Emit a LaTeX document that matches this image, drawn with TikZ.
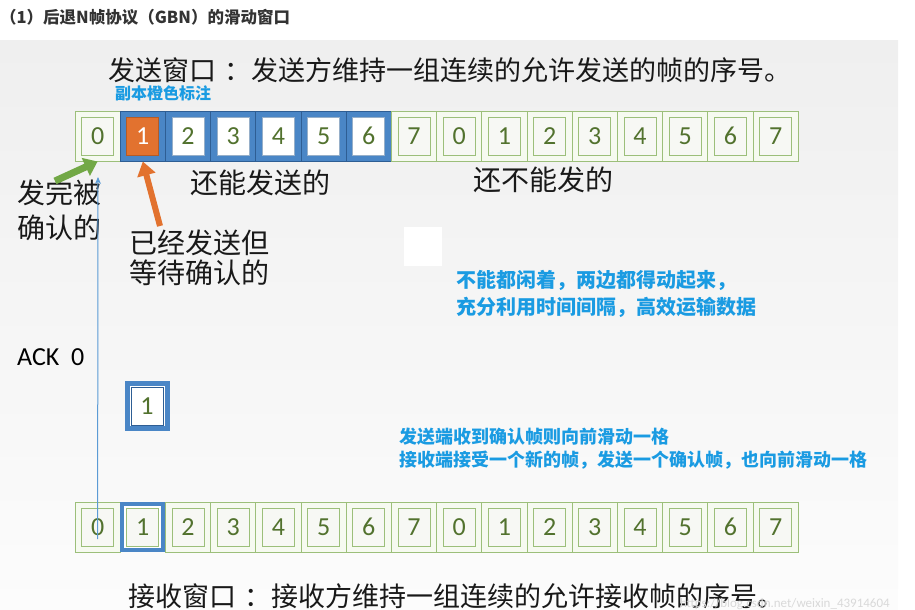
\documentclass[tikz,border=0pt]{standalone}
\usepackage{fontspec}
\setmainfont{Carlito}
\newfontfamily\cjk{Noto Sans CJK SC}
\usetikzlibrary{positioning,arrows.meta}

\definecolor{bgtop}{HTML}{EFEFEF}
\definecolor{bgbottom}{HTML}{FCFCFC}
\definecolor{cellgreen}{HTML}{9CBF7A}
\definecolor{cellfill}{HTML}{F6FAF0}
\definecolor{slotfill}{HTML}{F7F8F4}
\definecolor{numgreen}{HTML}{52722E}
\definecolor{winblue}{HTML}{4A86C6}
\definecolor{winedge}{HTML}{2E5E94}
\definecolor{sentorange}{HTML}{E2722F}
\definecolor{donegreen}{HTML}{72A846}
\definecolor{tipblue}{HTML}{1A9BE2}
\definecolor{ackblue}{HTML}{5B9BD5}
\definecolor{titlegray}{HTML}{333333}

\begin{document}
\begin{tikzpicture}[x=1pt, y=-1pt,
  cell/.style={rectangle, draw=cellgreen, fill=cellfill, line width=1pt, minimum width=45.2pt, minimum height=50pt, inner sep=0pt},
  wincell/.style={cell, draw=winedge, fill=winblue},
  rcvcell/.style={cell, draw=winblue, line width=4pt, fill=white, minimum width=41pt, minimum height=46pt},
  slot/.style={rectangle, draw=cellgreen, fill=slotfill, line width=0.8pt, minimum width=32pt, minimum height=38pt, inner sep=0pt, text=numgreen, font=\fontsize{26}{26}\selectfont},
  winslot/.style={slot, draw=winedge!50, fill=white},
  sentslot/.style={slot, draw=sentorange!80!black, fill=sentorange, text=white},
  big/.style={font=\cjk\fontsize{28}{35}\selectfont, text=black!90, inner sep=0pt, align=left},
  tip/.style={font=\cjk\bfseries\fontsize{20}{27}\selectfont, text=tipblue, inner sep=0pt, align=left},
  donearrow/.style={draw=donegreen, line width=7pt, -{Triangle[width=19pt,length=13pt]}},
  sentarrow/.style={draw=sentorange, line width=6pt, -{Triangle[width=18pt,length=14pt]}},
  ackline/.style={draw=ackblue, line width=1pt, -{Stealth[width=6pt,length=7pt]}}
]
  \useasboundingbox (0,0) rectangle (915,610);
  \shade[top color=bgtop, bottom color=bgbottom] (0,41) rectangle (898,610);

  \node[anchor=west, inner sep=0pt, text=titlegray, font=\cjk\bfseries\fontsize{16.5}{16.5}\selectfont] (title) at (0,17) {（1）后退N帧协议（GBN）的滑动窗口};
  \node[big, anchor=west, font=\cjk\fontsize{27}{27}\selectfont] (sendwin) at (108,70) {发送窗口\hspace{0.3em}：发送方维持一组连续的允许发送的帧的序号。};
  \node[tip, anchor=west, font=\cjk\bfseries\fontsize{16}{16}\selectfont] (note) at (115,93) {副本橙色标注};

  % sender row
  \foreach \i in {0,...,15} {
    \pgfmathtruncatemacro{\n}{mod(\i,8)}
    \def\cs{cell}\def\ss{slot}
    \ifnum\i>0 \ifnum\i<7 \def\cs{wincell}\def\ss{winslot}\fi\fi
    \ifnum\i=1 \def\ss{sentslot}\fi
    \node[\cs] (s\i) at ({97.6+45.2*\i},136) {};
    \node[\ss] (ss\i) at (s\i.center) {\n};
  }

  \node[big] (canSend) at (260,183) {还能发送的};
  \node[big] (cannotSend) at (543,180) {还不能发的};
  \node[big, anchor=west] (done) at (17,210) {发完被\\确认的};
  \node[big, anchor=west, font=\cjk\fontsize{28}{30}\selectfont] (waiting) at (129,258) {已经发送但\\等待确认的};
  \node[fill=white, minimum width=38pt, minimum height=39pt, inner sep=0pt] (blank) at (423,246) {};

  \coordinate (doneTail) at (55,181);
  \coordinate (sentTail) at (160,226);
  \draw[donearrow] (doneTail) -- (s0.south);
  \draw[sentarrow] (sentTail) -- (s1.south);

  \node[tip, anchor=west] (idle) at (456,294) {不能都闲着，两边都得动起来，\\充分利用时间间隔，高效运输数据};

  % ack in flight
  \node[anchor=west, inner sep=0pt, font=\fontsize{26}{26}\selectfont] (ack) at (17,357) {ACK~~0};
  \node[rcvcell, line width=5pt, minimum width=40pt, minimum height=45pt] (pkt) at (147,406) {};
  \node[slot, fill=white, draw=winedge] (pktslot) at (pkt.center) {1};

  \node[tip, anchor=west, font=\cjk\bfseries\fontsize{18}{23}\selectfont] (slide) at (399,449) {发送端收到确认帧则向前滑动一格\\接收端接受一个新的帧，发送一个确认帧，也向前滑动一格};

  % receiver row
  \foreach \i in {0,...,15} {
    \pgfmathtruncatemacro{\n}{mod(\i,8)}
    \def\cs{cell}
    \ifnum\i=1 \def\cs{rcvcell}\fi
    \node[\cs] (r\i) at ({97.6+45.2*\i},527) {};
    \node[slot] (rs\i) at (r\i.center) {\n};
  }

  \coordinate (ackTip) at (98,177);
  \draw[ackline] ([yshift=-12pt]r0.center) -- (ackTip);

  \node[big, anchor=west, font=\cjk\fontsize{27}{27}\selectfont] (recvwin) at (128,596) {接收窗口\hspace{0.3em}：接收方维持一组连续的允许接收帧的序号。};
  \node[anchor=east, inner sep=0pt, text=gray!30, font=\fontsize{13}{13}\selectfont] (mark) at (890,604) {https://blog.csdn.net/weixin\_43914604};
\end{tikzpicture}
\end{document}
